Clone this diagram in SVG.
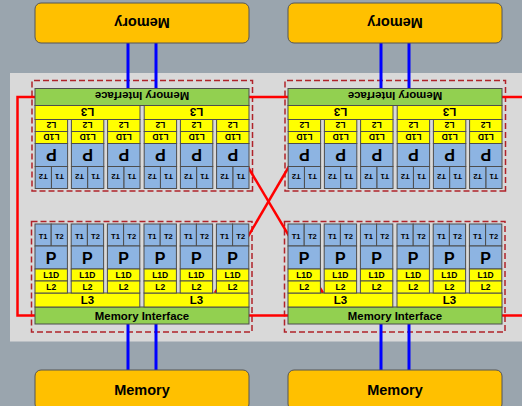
<svg xmlns="http://www.w3.org/2000/svg" width="522" height="406" viewBox="0 0 522 406">
<style>
.bg{fill:#9aa5ae}
.panel{fill:#d9d9d9}
.dash{fill:none;stroke:#b0232a;stroke-width:1.5;stroke-dasharray:6 3}
.mem{fill:#ffc000;stroke:#555;stroke-width:1}
.mi{fill:#92d050;stroke:#4d4d4d;stroke-width:1}
.y{fill:#ffff00;stroke:#4d4d4d;stroke-width:1}
.b{fill:#8db4e2;stroke:#4d4d4d;stroke-width:1}
.red{fill:none;stroke:#ff0000;stroke-width:2.5}
.blue{fill:none;stroke:#0000ff;stroke-width:3}
text{font-family:"Liberation Sans",Arial,sans-serif;font-weight:bold;fill:#000;text-anchor:middle}
.tm{font-size:14.5px}
.tmi{font-size:11.4px}
.tl3{font-size:11.5px}
.tp{font-size:16px}
.ts{font-size:8.5px}
.tt{font-size:7.5px}
</style>
<defs>
<g id="core">
<rect class="b" x="35" y="224" width="16.2" height="22"/>
<rect class="b" x="51.2" y="224" width="16.2" height="22"/>
<rect class="b" x="35" y="246" width="32.4" height="23"/>
<rect class="y" x="35" y="269" width="32.4" height="12"/>
<rect class="y" x="35" y="281" width="32.4" height="12"/>
</g>
</defs>
<rect class="bg" x="0" y="0" width="522" height="406"/>
<rect class="panel" x="10" y="73" width="512" height="268.5"/>

<g id="frames">
<rect class="dash" x="31.5" y="221.5" width="220.5" height="110.5"/>
<rect class="dash" x="284.5" y="221.5" width="220.5" height="110.5"/>
<rect class="dash" transform="rotate(180 142 206.25)" x="31.5" y="221.5" width="220.5" height="110.5"/>
<rect class="dash" transform="rotate(180 395 206.25)" x="284.5" y="221.5" width="220.5" height="110.5"/>
</g>

<g id="connectors">
<polyline class="red" points="36,97 17.5,97 17.5,315.5 36,315.5"/>
<line class="red" x1="248" y1="97" x2="289" y2="97"/>
<line class="red" x1="248" y1="315.5" x2="289" y2="315.5"/>
<line class="red" x1="501" y1="97" x2="522" y2="97"/>
<line class="red" x1="501" y1="315.5" x2="522" y2="315.5"/>
<line class="red" x1="214" y1="110" x2="323" y2="293"/>
<line class="red" x1="215" y1="293" x2="322" y2="110"/>
<line class="blue" x1="128" y1="324" x2="128" y2="370"/>
<line class="blue" x1="156" y1="324" x2="156" y2="370"/>
<line class="blue" x1="381" y1="324" x2="381" y2="370"/>
<line class="blue" x1="409" y1="324" x2="409" y2="370"/>
<line class="blue" x1="128" y1="43" x2="128" y2="88.5"/>
<line class="blue" x1="156" y1="43" x2="156" y2="88.5"/>
<line class="blue" x1="381" y1="43" x2="381" y2="88.5"/>
<line class="blue" x1="409" y1="43" x2="409" y2="88.5"/>
</g>

<g id="memory-bl">
<rect class="mem" x="35" y="370" width="214" height="40" rx="6"/>
<text class="tm" x="142" y="394.5">Memory</text>
</g>
<g id="memory-br" transform="translate(253 0)">
<rect class="mem" x="35" y="370" width="214" height="40" rx="6"/>
<text class="tm" x="142" y="394.5">Memory</text>
</g>
<g id="memory-tl" transform="rotate(180 142 206.25)">
<rect class="mem" x="35" y="369.5" width="214" height="40" rx="6"/>
<text class="tm" x="142" y="394.5">Memory</text>
</g>
<g id="memory-tr" transform="rotate(180 395 206.25) translate(253 0)">
<rect class="mem" x="35" y="369.5" width="214" height="40" rx="6"/>
<text class="tm" x="142" y="394.5">Memory</text>
</g>

<g id="block-bl">
<rect class="mi" x="35" y="307" width="214" height="17"/>
<text class="tmi" x="142" y="320.2">Memory Interface</text>
<rect class="y" x="35" y="293" width="104.8" height="14"/>
<rect class="y" x="144" y="293" width="105" height="14"/>
<text class="tl3" x="87.4" y="304.2">L3</text>
<text class="tl3" x="196.5" y="304.2">L3</text>
<g id="bl-c1"><use href="#core"/><text class="tt" x="43.1" y="238.5">T1</text><text class="tt" x="59.3" y="238.5">T2</text><text class="tp" x="51.2" y="263.5">P</text><text class="ts" x="51.2" y="278.2">L1D</text><text class="ts" x="51.2" y="290.2">L2</text></g>
<g id="bl-c2" transform="translate(36.2 0)"><use href="#core"/><text class="tt" x="43.1" y="238.5">T1</text><text class="tt" x="59.3" y="238.5">T2</text><text class="tp" x="51.2" y="263.5">P</text><text class="ts" x="51.2" y="278.2">L1D</text><text class="ts" x="51.2" y="290.2">L2</text></g>
<g id="bl-c3" transform="translate(72.4 0)"><use href="#core"/><text class="tt" x="43.1" y="238.5">T1</text><text class="tt" x="59.3" y="238.5">T2</text><text class="tp" x="51.2" y="263.5">P</text><text class="ts" x="51.2" y="278.2">L1D</text><text class="ts" x="51.2" y="290.2">L2</text></g>
<g id="bl-c4" transform="translate(109 0)"><use href="#core"/><text class="tt" x="43.1" y="238.5">T1</text><text class="tt" x="59.3" y="238.5">T2</text><text class="tp" x="51.2" y="263.5">P</text><text class="ts" x="51.2" y="278.2">L1D</text><text class="ts" x="51.2" y="290.2">L2</text></g>
<g id="bl-c5" transform="translate(145.2 0)"><use href="#core"/><text class="tt" x="43.1" y="238.5">T1</text><text class="tt" x="59.3" y="238.5">T2</text><text class="tp" x="51.2" y="263.5">P</text><text class="ts" x="51.2" y="278.2">L1D</text><text class="ts" x="51.2" y="290.2">L2</text></g>
<g id="bl-c6" transform="translate(181.4 0)"><use href="#core"/><text class="tt" x="43.1" y="238.5">T1</text><text class="tt" x="59.3" y="238.5">T2</text><text class="tp" x="51.2" y="263.5">P</text><text class="ts" x="51.2" y="278.2">L1D</text><text class="ts" x="51.2" y="290.2">L2</text></g>
</g>

<g id="block-br" transform="translate(253 0)">
<rect class="mi" x="35" y="307" width="214" height="17"/>
<text class="tmi" x="142" y="320.2">Memory Interface</text>
<rect class="y" x="35" y="293" width="104.8" height="14"/>
<rect class="y" x="144" y="293" width="105" height="14"/>
<text class="tl3" x="87.4" y="304.2">L3</text>
<text class="tl3" x="196.5" y="304.2">L3</text>
<g id="br-c1"><use href="#core"/><text class="tt" x="43.1" y="238.5">T1</text><text class="tt" x="59.3" y="238.5">T2</text><text class="tp" x="51.2" y="263.5">P</text><text class="ts" x="51.2" y="278.2">L1D</text><text class="ts" x="51.2" y="290.2">L2</text></g>
<g id="br-c2" transform="translate(36.2 0)"><use href="#core"/><text class="tt" x="43.1" y="238.5">T1</text><text class="tt" x="59.3" y="238.5">T2</text><text class="tp" x="51.2" y="263.5">P</text><text class="ts" x="51.2" y="278.2">L1D</text><text class="ts" x="51.2" y="290.2">L2</text></g>
<g id="br-c3" transform="translate(72.4 0)"><use href="#core"/><text class="tt" x="43.1" y="238.5">T1</text><text class="tt" x="59.3" y="238.5">T2</text><text class="tp" x="51.2" y="263.5">P</text><text class="ts" x="51.2" y="278.2">L1D</text><text class="ts" x="51.2" y="290.2">L2</text></g>
<g id="br-c4" transform="translate(109 0)"><use href="#core"/><text class="tt" x="43.1" y="238.5">T1</text><text class="tt" x="59.3" y="238.5">T2</text><text class="tp" x="51.2" y="263.5">P</text><text class="ts" x="51.2" y="278.2">L1D</text><text class="ts" x="51.2" y="290.2">L2</text></g>
<g id="br-c5" transform="translate(145.2 0)"><use href="#core"/><text class="tt" x="43.1" y="238.5">T1</text><text class="tt" x="59.3" y="238.5">T2</text><text class="tp" x="51.2" y="263.5">P</text><text class="ts" x="51.2" y="278.2">L1D</text><text class="ts" x="51.2" y="290.2">L2</text></g>
<g id="br-c6" transform="translate(181.4 0)"><use href="#core"/><text class="tt" x="43.1" y="238.5">T1</text><text class="tt" x="59.3" y="238.5">T2</text><text class="tp" x="51.2" y="263.5">P</text><text class="ts" x="51.2" y="278.2">L1D</text><text class="ts" x="51.2" y="290.2">L2</text></g>
</g>

<g id="block-tl" transform="rotate(180 142 206.25)">
<rect class="mi" x="35" y="307" width="214" height="17"/>
<text class="tmi" x="142" y="320.2">Memory Interface</text>
<rect class="y" x="35" y="293" width="104.8" height="14"/>
<rect class="y" x="144" y="293" width="105" height="14"/>
<text class="tl3" x="87.4" y="304.2">L3</text>
<text class="tl3" x="196.5" y="304.2">L3</text>
<g id="tl-c1"><use href="#core"/><text class="tt" x="43.1" y="238.5">T1</text><text class="tt" x="59.3" y="238.5">T2</text><text class="tp" x="51.2" y="263.5">P</text><text class="ts" x="51.2" y="278.2">L1D</text><text class="ts" x="51.2" y="290.2">L2</text></g>
<g id="tl-c2" transform="translate(36.2 0)"><use href="#core"/><text class="tt" x="43.1" y="238.5">T1</text><text class="tt" x="59.3" y="238.5">T2</text><text class="tp" x="51.2" y="263.5">P</text><text class="ts" x="51.2" y="278.2">L1D</text><text class="ts" x="51.2" y="290.2">L2</text></g>
<g id="tl-c3" transform="translate(72.4 0)"><use href="#core"/><text class="tt" x="43.1" y="238.5">T1</text><text class="tt" x="59.3" y="238.5">T2</text><text class="tp" x="51.2" y="263.5">P</text><text class="ts" x="51.2" y="278.2">L1D</text><text class="ts" x="51.2" y="290.2">L2</text></g>
<g id="tl-c4" transform="translate(109 0)"><use href="#core"/><text class="tt" x="43.1" y="238.5">T1</text><text class="tt" x="59.3" y="238.5">T2</text><text class="tp" x="51.2" y="263.5">P</text><text class="ts" x="51.2" y="278.2">L1D</text><text class="ts" x="51.2" y="290.2">L2</text></g>
<g id="tl-c5" transform="translate(145.2 0)"><use href="#core"/><text class="tt" x="43.1" y="238.5">T1</text><text class="tt" x="59.3" y="238.5">T2</text><text class="tp" x="51.2" y="263.5">P</text><text class="ts" x="51.2" y="278.2">L1D</text><text class="ts" x="51.2" y="290.2">L2</text></g>
<g id="tl-c6" transform="translate(181.4 0)"><use href="#core"/><text class="tt" x="43.1" y="238.5">T1</text><text class="tt" x="59.3" y="238.5">T2</text><text class="tp" x="51.2" y="263.5">P</text><text class="ts" x="51.2" y="278.2">L1D</text><text class="ts" x="51.2" y="290.2">L2</text></g>
</g>

<g id="block-tr" transform="rotate(180 395 206.25) translate(253 0)">
<rect class="mi" x="35" y="307" width="214" height="17"/>
<text class="tmi" x="142" y="320.2">Memory Interface</text>
<rect class="y" x="35" y="293" width="104.8" height="14"/>
<rect class="y" x="144" y="293" width="105" height="14"/>
<text class="tl3" x="87.4" y="304.2">L3</text>
<text class="tl3" x="196.5" y="304.2">L3</text>
<g id="tr-c1"><use href="#core"/><text class="tt" x="43.1" y="238.5">T1</text><text class="tt" x="59.3" y="238.5">T2</text><text class="tp" x="51.2" y="263.5">P</text><text class="ts" x="51.2" y="278.2">L1D</text><text class="ts" x="51.2" y="290.2">L2</text></g>
<g id="tr-c2" transform="translate(36.2 0)"><use href="#core"/><text class="tt" x="43.1" y="238.5">T1</text><text class="tt" x="59.3" y="238.5">T2</text><text class="tp" x="51.2" y="263.5">P</text><text class="ts" x="51.2" y="278.2">L1D</text><text class="ts" x="51.2" y="290.2">L2</text></g>
<g id="tr-c3" transform="translate(72.4 0)"><use href="#core"/><text class="tt" x="43.1" y="238.5">T1</text><text class="tt" x="59.3" y="238.5">T2</text><text class="tp" x="51.2" y="263.5">P</text><text class="ts" x="51.2" y="278.2">L1D</text><text class="ts" x="51.2" y="290.2">L2</text></g>
<g id="tr-c4" transform="translate(109 0)"><use href="#core"/><text class="tt" x="43.1" y="238.5">T1</text><text class="tt" x="59.3" y="238.5">T2</text><text class="tp" x="51.2" y="263.5">P</text><text class="ts" x="51.2" y="278.2">L1D</text><text class="ts" x="51.2" y="290.2">L2</text></g>
<g id="tr-c5" transform="translate(145.2 0)"><use href="#core"/><text class="tt" x="43.1" y="238.5">T1</text><text class="tt" x="59.3" y="238.5">T2</text><text class="tp" x="51.2" y="263.5">P</text><text class="ts" x="51.2" y="278.2">L1D</text><text class="ts" x="51.2" y="290.2">L2</text></g>
<g id="tr-c6" transform="translate(181.4 0)"><use href="#core"/><text class="tt" x="43.1" y="238.5">T1</text><text class="tt" x="59.3" y="238.5">T2</text><text class="tp" x="51.2" y="263.5">P</text><text class="ts" x="51.2" y="278.2">L1D</text><text class="ts" x="51.2" y="290.2">L2</text></g>
</g>
</svg>
